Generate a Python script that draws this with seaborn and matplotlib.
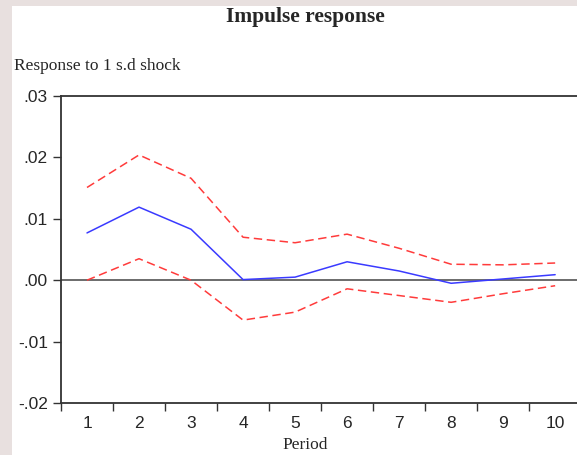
import numpy as np
import pandas as pd
import matplotlib
matplotlib.use("Agg")
import matplotlib.pyplot as plt
import seaborn as sns
from matplotlib.patches import Rectangle
from matplotlib.ticker import FixedLocator

# impulse response values
periods = [1, 2, 3, 4, 5, 6, 7, 8, 9, 10]
response = [0.0077, 0.0119, 0.0083, 0.0001, 0.0005, 0.0030, 0.0015, -0.0005, 0.0002, 0.0009]
upper_band = [0.0151, 0.0204, 0.0166, 0.0070, 0.0061, 0.0075, 0.0052, 0.0026, 0.0025, 0.0028]
lower_band = [0.0000, 0.0035, 0.0000, -0.0065, -0.0052, -0.0014, -0.0025, -0.0036, -0.0022, -0.0009]
ytick_vals = [-0.02, -0.01, 0.00, 0.01, 0.02, 0.03]
ytick_labels = ['-.02', '-.01', '.00', '.01', '.02', '.03']

sns.set_style("white")
plt.rcParams['font.family'] = ['Liberation Sans', 'DejaVu Sans']

fig = plt.figure(figsize=(5.77, 4.55), dpi=100)
fig.patch.set_facecolor('#e8e0df')
# white page area
fig.patches.append(Rectangle((12 / 577, 0), 1, 1 - 6 / 455, transform=fig.transFigure,
                             facecolor='white', edgecolor='none', zorder=0))

ax = fig.add_axes([61 / 577, 1 - 403 / 455, 516 / 577, (403 - 96) / 455])
ax.set_zorder(2)
ax.set_facecolor('none')

df = pd.DataFrame({'period': periods, 'resp': response, 'up': upper_band, 'lo': lower_band})
for col in ['up', 'lo']:
    sns.lineplot(data=df, x='period', y=col, ax=ax, color='#ff3b3b', linewidth=1.1)
    ax.lines[-1].set_dashes((5.5, 3))
sns.lineplot(data=df, x='period', y='resp', ax=ax, color='#3a3aff', linewidth=1.1)
ax.axhline(0, color='#444444', linewidth=1.1, zorder=1)

ax.set_xlim(0.5, 10.42)
ax.set_ylim(-0.02, 0.03)

ax.set_yticks(ytick_vals)
ax.set_yticklabels(ytick_labels)
ax.set_xticks(periods)
ax.set_xticklabels([str(p) for p in periods])
ax.xaxis.set_minor_locator(FixedLocator(np.arange(0.5, 10.5, 1.0)))

ax.tick_params(axis='y', which='major', left=True, length=5.5, width=1, color='#333333',
               pad=4, labelsize=12.5)
ax.tick_params(axis='x', which='major', bottom=True, length=0, pad=9, labelsize=12.5)
ax.tick_params(axis='x', which='minor', bottom=True, length=6, width=1, color='#333333')

for side in ['left', 'bottom', 'top']:
    ax.spines[side].set_visible(True)
    ax.spines[side].set_color('#333333')
    ax.spines[side].set_linewidth(1.3)
ax.spines['right'].set_visible(False)

ax.set_xlabel('Period', family='Liberation Serif', fontsize=12.5)
ax.xaxis.set_label_coords((305 - 61) / 516, -0.11)
ax.set_ylabel('')

fig.text(305 / 577, 1 - 17 / 455, 'Impulse response', family='Liberation Serif',
         fontsize=15.5, fontweight='bold', ha='center', va='center')
fig.text(14 / 577, 1 - 66 / 455, 'Response to 1 s.d shock', family='Liberation Serif',
         fontsize=12.5, ha='left', va='center')

fig.savefig('out.png', dpi=100, facecolor=fig.get_facecolor())
